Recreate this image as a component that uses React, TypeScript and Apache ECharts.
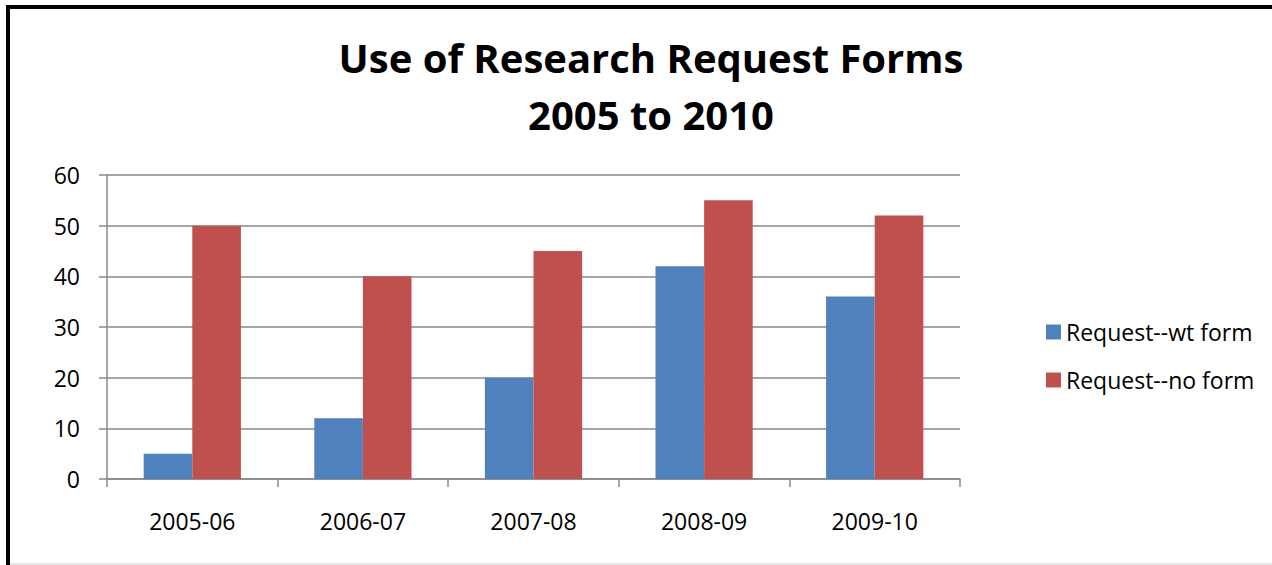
import React, { useEffect, useRef } from "react";
import * as echarts from "echarts";

const categories = ["2005-06", "2006-07", "2007-08", "2008-09", "2009-10"];
const withForm = [5, 12, 20, 42, 36];
const noForm = [50, 40, 45, 55, 52];
const seriesNames = ["Request--wt form", "Request--no form"];
const titleLines = ["Use of Research Request Forms", "2005 to 2010"];

const FONT = "Open Sans, Lato, sans-serif";

export default function App() {
  const ref = useRef<HTMLDivElement>(null);
  useEffect(() => {
    if (!ref.current) return;
    const chart = echarts.init(ref.current, null, { renderer: "svg" });
    chart.setOption({
      animation: false,
      backgroundColor: "#ffffff",
      title: {
        text: titleLines.join("\n"),
        left: 646,
        top: 24,
        textAlign: "center",
        textStyle: {
          fontFamily: FONT,
          fontSize: 40,
          fontWeight: "bold",
          color: "#000",
          lineHeight: 57,
        },
      },
      legend: {
        orient: "vertical",
        left: 1041,
        top: 311,
        itemWidth: 15,
        itemHeight: 15,
        itemGap: 16,
        icon: "rect",
        textStyle: { fontFamily: FONT, fontSize: 23, color: "#000", padding: [0, 0, 0, 0], lineHeight: 32 },
        data: seriesNames,
      },
      grid: { left: 107, right: 1272 - 960, top: 175, bottom: 565 - 479, containLabel: false },
      xAxis: {
        type: "category",
        data: categories,
        axisLine: { lineStyle: { color: "#888", width: 1.5 } },
        axisTick: { show: true, length: 8, alignWithLabel: false, lineStyle: { color: "#888", width: 1.5 } },
        axisLabel: { fontFamily: FONT, fontSize: 23, color: "#000", margin: 30 },
      },
      yAxis: {
        type: "value",
        min: 0,
        max: 60,
        interval: 10,
        axisLine: { show: true, lineStyle: { color: "#888", width: 1.5 } },
        axisTick: { show: true, length: 8, lineStyle: { color: "#888", width: 1.5 } },
        splitLine: { lineStyle: { color: "#888", width: 1.5 } },
        axisLabel: { fontFamily: FONT, fontSize: 23, color: "#000", margin: 27 },
      },
      series: [
        {
          name: seriesNames[0],
          type: "bar",
          data: withForm,
          barGap: "0%",
          barCategoryGap: "43%",
          itemStyle: { color: "#4f81bd" },
        },
        {
          name: seriesNames[1],
          type: "bar",
          data: noForm,
          barGap: "0%",
          barCategoryGap: "43%",
          itemStyle: { color: "#c0504d" },
        },
      ],
      graphic: [
        { type: "line", shape: { x1: 8, y1: 7, x2: 1272, y2: 7 }, style: { stroke: "#000", lineWidth: 4 } },
        { type: "line", shape: { x1: 8, y1: 5, x2: 8, y2: 565 }, style: { stroke: "#000", lineWidth: 4 } },
        { type: "line", shape: { x1: 10, y1: 564, x2: 1272, y2: 564 }, style: { stroke: "#ccc", lineWidth: 1 } },
      ],
    });
    return () => chart.dispose();
  }, []);
  return (
    <div
      ref={ref}
      style={{ position: "absolute", left: 0, top: 0, width: 1272, height: 565 }}
    />
  );
}
